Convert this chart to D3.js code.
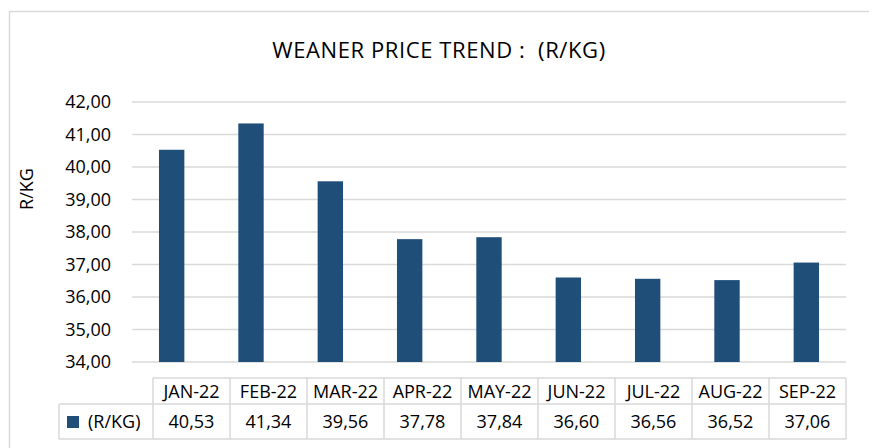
<!DOCTYPE html>
<html>
<head>
<meta charset="utf-8">
<script src="https://cdn.jsdelivr.net/npm/d3@7"></script>
<style>
  body { margin: 0; background: #fff; }
  text { font-family: "Open Sans", "Noto Sans", sans-serif; fill: #000; }
</style>
</head>
<body>
<svg id="chart" width="869" height="448"></svg>
<script>
// chart data
var months = ['JAN-22', 'FEB-22', 'MAR-22', 'APR-22', 'MAY-22', 'JUN-22', 'JUL-22', 'AUG-22', 'SEP-22'];
var prices = [40.53, 41.34, 39.56, 37.78, 37.84, 36.60, 36.56, 36.52, 37.06];
var yTicks = [34, 35, 36, 37, 38, 39, 40, 41, 42];
var seriesName = '(R/KG)';

var fmt = function(v) { return d3.format('.2f')(v).replace('.', ','); };

var svg = d3.select('#chart');
var barColor = '#1f4e79';
var lineColor = '#d9d9d9';
var fontSize = '18px';

// outer chart frame
svg.append('rect')
  .attr('x', 9.5).attr('y', 11.5)
  .attr('width', 880).attr('height', 460)
  .attr('fill', 'none')
  .attr('stroke', lineColor)
  .attr('stroke-width', 1.5);

svg.append('text')
  .attr('x', 439).attr('y', 58)
  .attr('text-anchor', 'middle')
  .style('font-size', '22px')
  .style('white-space', 'pre')
  .style('letter-spacing', '0.6px')
  .text('WEANER PRICE TREND :  (R/KG)');

var plotLeft = 132, plotRight = 846, plotTop = 102, plotBottom = 362;

var x = d3.scaleBand().domain(months).range([plotLeft, plotRight]).paddingInner(0.68).paddingOuter(0.34);
var y = d3.scaleLinear().domain([34, 42]).range([plotBottom, plotTop]);

// gridlines
svg.append('g').selectAll('line')
  .data(yTicks)
  .enter().append('line')
  .attr('x1', plotLeft).attr('x2', plotRight)
  .attr('y1', function(d) { return y(d); })
  .attr('y2', function(d) { return y(d); })
  .attr('stroke', lineColor)
  .attr('stroke-width', 1.5);

// y axis labels
var yAxis = d3.axisLeft(y).tickValues(yTicks).tickFormat(fmt).tickSize(0).tickPadding(0);
var yg = svg.append('g')
  .attr('transform', 'translate(111,0)')
  .call(yAxis);
yg.select('.domain').remove();
yg.selectAll('text')
  .style('font-size', fontSize)
  .style('font-family', '"Open Sans", "Noto Sans", sans-serif')
  .attr('fill', '#000');

svg.append('text')
  .attr('transform', 'translate(33,189) rotate(-90)')
  .attr('text-anchor', 'middle')
  .style('font-size', fontSize)
  .text('R/KG');

// bars
svg.append('g').selectAll('rect')
  .data(prices)
  .enter().append('rect')
  .attr('x', function(d, i) { return x(months[i]); })
  .attr('width', x.bandwidth())
  .attr('y', function(d) { return y(d); })
  .attr('height', function(d) { return plotBottom - y(d); })
  .attr('fill', barColor);

// data table
var tableLeft = 153, legendLeft = 59;
var rowTop = 378, rowMid = 404, rowBottom = 439;
var col = d3.scaleBand().domain(months).range([tableLeft, plotRight]);
var table = svg.append('g')
  .attr('stroke', lineColor)
  .attr('stroke-width', 1.5)
  .attr('fill', 'none');

table.append('line').attr('x1', tableLeft).attr('x2', plotRight).attr('y1', rowTop).attr('y2', rowTop);
table.append('line').attr('x1', legendLeft).attr('x2', plotRight).attr('y1', rowMid).attr('y2', rowMid);
table.append('line').attr('x1', legendLeft).attr('x2', plotRight).attr('y1', rowBottom).attr('y2', rowBottom);
table.append('line').attr('x1', legendLeft).attr('x2', legendLeft).attr('y1', rowMid).attr('y2', rowBottom);
table.selectAll('.vline')
  .data(months.concat(['end']))
  .enter().append('line')
  .attr('x1', function(d, i) { return tableLeft + i * col.bandwidth(); })
  .attr('x2', function(d, i) { return tableLeft + i * col.bandwidth(); })
  .attr('y1', rowTop).attr('y2', rowBottom);

svg.append('g').selectAll('text')
  .data(months)
  .enter().append('text')
  .attr('x', function(d) { return col(d) + col.bandwidth() / 2; })
  .attr('y', (rowTop + rowMid) / 2 + 6.5)
  .attr('text-anchor', 'middle')
  .style('font-size', fontSize)
  .text(function(d) { return d; });

svg.append('g').selectAll('text')
  .data(prices)
  .enter().append('text')
  .attr('x', function(d, i) { return col(months[i]) + col.bandwidth() / 2; })
  .attr('y', (rowMid + rowBottom) / 2 + 6.5)
  .attr('text-anchor', 'middle')
  .style('font-size', fontSize)
  .text(fmt);

// legend key in table
svg.append('rect')
  .attr('x', 67).attr('y', 416)
  .attr('width', 12).attr('height', 12)
  .attr('fill', barColor);
svg.append('text')
  .attr('x', 88).attr('y', (rowMid + rowBottom) / 2 + 6.5)
  .style('font-size', fontSize)
  .text(seriesName);
</script>
</body>
</html>
